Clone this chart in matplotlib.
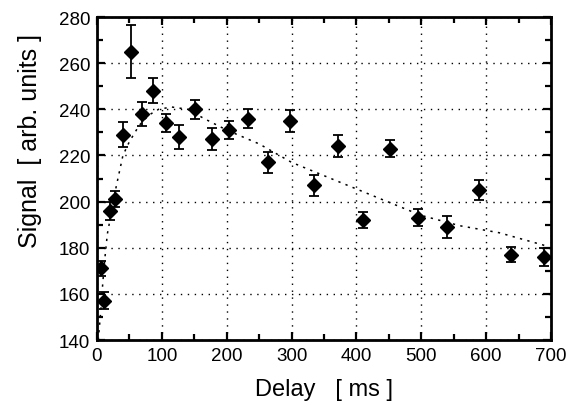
import matplotlib
matplotlib.use("Agg")
import matplotlib.pyplot as plt
from matplotlib.ticker import MultipleLocator

plt.rcParams['font.family'] = ['Liberation Sans', 'DejaVu Sans']

# measured signal vs delay
delay = [6, 11, 19.5, 28, 39.5, 53, 69, 86, 106, 127, 151, 177, 204, 233,
         264, 298, 334, 371, 410, 451.5, 495, 540, 588.5, 638, 688.5]
signal = [171, 157, 196, 201, 229, 265, 238, 248, 234, 228, 240, 227, 231,
          236, 217, 235, 207, 224, 192, 223, 193, 189, 205, 177, 176]
err = [3.3, 3.6, 4.0, 3.4, 5.4, 11.4, 5.2, 5.4, 3.8, 5.1, 4.0, 4.7, 3.9,
       4.0, 4.5, 4.7, 4.5, 4.7, 3.3, 3.6, 3.6, 4.6, 4.5, 3.1, 3.8]

# fit curve
fit_t = [2, 6, 9, 12, 16, 20, 25, 30, 40, 50, 65, 80, 95, 115, 140, 165,
         200, 250, 300, 365, 430, 500, 560, 620, 690]
fit_y = [140, 153, 165, 175, 186, 192, 200, 207, 220, 226, 233, 237.5, 240,
         241, 240, 236, 231, 225, 217, 209.5, 202, 194, 189.5, 186.5, 181]

fig = plt.figure(figsize=(5.79, 4.14), dpi=100)
ax = fig.add_axes([0.1675, 0.1763, 0.7842, 0.7802])

ax.plot(fit_t, fit_y, color="black", lw=1.1, ls=(0, (1.5, 3.5)), zorder=2)
ax.errorbar(delay, signal, yerr=err, fmt="D", color="black", ms=7.5,
            elinewidth=1.3, capsize=3.5, capthick=1.3, zorder=3)

ax.set_xlim(0, 700)
ax.set_ylim(140, 280)
ax.xaxis.set_major_locator(MultipleLocator(100))
ax.xaxis.set_minor_locator(MultipleLocator(50))
ax.yaxis.set_major_locator(MultipleLocator(20))
ax.yaxis.set_minor_locator(MultipleLocator(10))
ax.tick_params(which="both", direction="in", top=True, right=True,
               labelsize=13.5, width=1.6, pad=5)
ax.tick_params(which="major", length=6)
ax.tick_params(which="minor", length=4)
for s in ax.spines.values():
    s.set_linewidth(2)

ax.grid(True, which="major", color="black", ls=(0, (1, 4)), lw=1.0)

ax.set_xlabel("Delay   [ ms ]", fontsize=17, labelpad=10)
ax.set_ylabel("Signal  [ arb. units ]", fontsize=18)
ax.yaxis.set_label_coords(-0.122, 0.62)

fig.savefig("out.png", dpi=100)
